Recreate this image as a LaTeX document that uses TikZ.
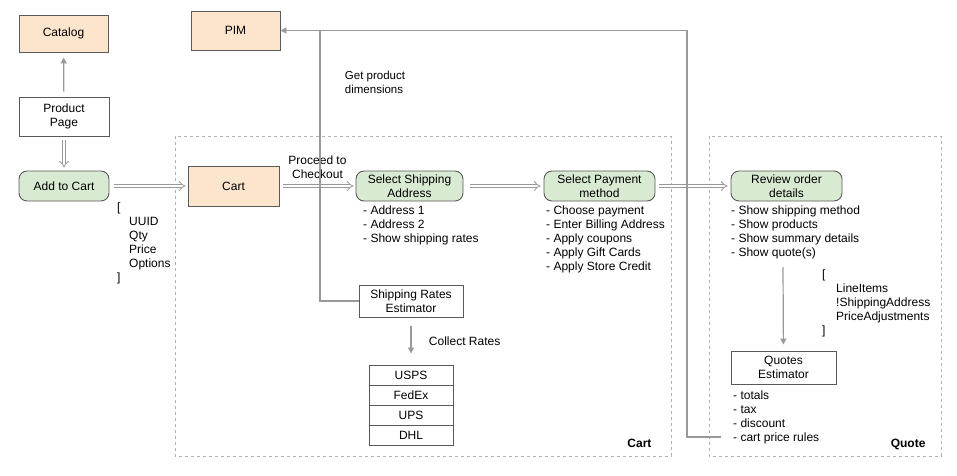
\documentclass[tikz,border=0pt]{standalone}
\usepackage{fontspec}
\setmainfont{Liberation Sans}
\usepackage{tikz}
\usetikzlibrary{positioning,
				arrows.meta,
				calc}

\definecolor{peach}{HTML}{FCE5CD}
\definecolor{mint}{HTML}{D9EAD3}
\definecolor{edgegray}{HTML}{595959}
\definecolor{linegray}{HTML}{999999}
\definecolor{dashgray}{HTML}{B0B0B0}

\tikzset{
	every node/.style={font=\fontsize{12}{14}\selectfont},
	box/.style={draw=edgegray, line width=0.9pt, align=center, inner sep=2pt},
	system/.style={box, fill=peach},
	stage/.style={box, fill=mint, rounded corners=8pt, minimum height=30pt},
	plain/.style={box, fill=white},
	listtext/.style={align=left, anchor=north west, inner sep=0pt},
	hollowarrow/.style={draw=linegray, double=white, double distance=2.6pt, line width=0.8pt, -{Implies}},
	grayarrow/.style={draw=linegray, line width=1.2pt, -{Triangle[length=6pt,width=6pt]}},
	grayline/.style={draw=linegray, line width=1.2pt},
	zone/.style={draw=dashgray, dashed, line width=0.8pt}
}

\begin{document}
\begin{tikzpicture}[x=1pt,y=-1pt]
		\useasboundingbox (0,0) rectangle (957,475);

		% zones
		\draw[zone] (175,136) rectangle (671,456);
		\draw[zone] (709,136) rectangle (941,456);
		\node[anchor=base east, font=\fontsize{12}{14}\selectfont\bfseries] (cartzone) at (655,447) {Cart};
		\node[anchor=base east, font=\fontsize{12}{14}\selectfont\bfseries] (quotezone) at (929,447) {Quote};

		% boxes
		\node[system, minimum width=89pt, minimum height=37pt] (catalog) at (63.5,33.5) {Catalog};
		\node[system, minimum width=89pt, minimum height=39pt] (pim) at (235.5,30.5) {PIM};
		\node[plain, minimum width=90pt, minimum height=39pt] (product) at (64,116.5) {Product\\Page};
		\node[stage, minimum width=90pt] (addcart) at (64,186) {Add to Cart};
		\node[system, minimum width=91pt, minimum height=40pt] (cart) at (233.5,186) {Cart};
		\node[stage, minimum width=107pt] (selship) at (409.5,186) {Select Shipping\\Address};
		\node[stage, minimum width=111pt] (selpay) at (599.5,186) {Select Payment\\method};
		\node[stage, minimum width=111pt] (review) at (786.5,186) {Review order\\details};
		\node[plain, minimum width=104pt, minimum height=32pt] (ratesest) at (411,301) {Shipping Rates\\Estimator};
		\node[plain, minimum width=105pt, minimum height=33pt] (quotesest) at (783.5,367.5) {Quotes\\Estimator};

		% carriers
		\foreach \name [count=\i] in {USPS,FedEx,UPS,DHL}
			\node[plain, minimum width=84pt, minimum height=20pt, inner sep=0pt] (carrier\i) at (411,355+20*\i) {\name};

		% lists
		\node[listtext] (cartdata) at (117,203) {[\\\hspace*{12pt}UUID\\\hspace*{12pt}Qty\\\hspace*{12pt}Price\\\hspace*{12pt}Options\\]};
		\node[listtext] (shiplist) at (363,206) {- Address 1\\- Address 2\\- Show shipping rates};
		\node[listtext] (paylist) at (546,206) {- Choose payment\\- Enter Billing Address\\- Apply coupons\\- Apply Gift Cards\\- Apply Store Credit};
		\node[listtext] (reviewlist) at (731,206) {- Show shipping method\\- Show products\\- Show summary details\\- Show quote(s)};
		\node[listtext] (quotedata) at (822,270) {[\\\hspace*{14pt}LineItems\\\hspace*{14pt}!ShippingAddress\\\hspace*{14pt}PriceAdjustments\\]};
		\node[listtext] (quotelist) at (733,391) {- totals\\- tax\\- discount\\- cart price rules};
		\node[align=left, font=\fontsize{11.5}{14}\selectfont] (dimlabel) at (375,82) {Get product\\dimensions};

		% flow
		\draw[grayarrow, shorten <=5pt, shorten >=5pt] (product) -- (catalog);
		\draw[hollowarrow, shorten <=4pt, shorten >=3pt] (product) -- (addcart);
		\draw[hollowarrow, shorten <=5pt, shorten >=2pt] (addcart) -- (cart);
		\draw[hollowarrow, shorten <=4pt, shorten >=2pt] (cart) -- node[above=4pt, align=center] (checkout) {Proceed to\\Checkout} (selship);
		\draw[hollowarrow, shorten <=7pt, shorten >=3pt] (selship) -- (selpay);
		\draw[hollowarrow, shorten <=4pt, shorten >=3pt] (selpay) -- (review);
		\coordinate (quotestart) at (783,267);
		\draw[grayarrow, shorten >=6pt] (quotestart) -- (quotesest);
		\draw[grayarrow, shorten <=9pt, shorten >=11pt] (ratesest) -- node[right=14pt] (collect) {Collect Rates} (carrier1);

		% product dimensions
		\coordinate (dimjoint) at (320,30.5);
		\coordinate (topcorner) at (687,30.5);
		\coordinate (rulesend) at (721,437);
		\draw[grayline] (rulesend) -| (topcorner) -- (dimjoint);
		\draw[grayarrow] (ratesest.west) -| (dimjoint) -- (pim.east);
	\end{tikzpicture}
\end{document}
